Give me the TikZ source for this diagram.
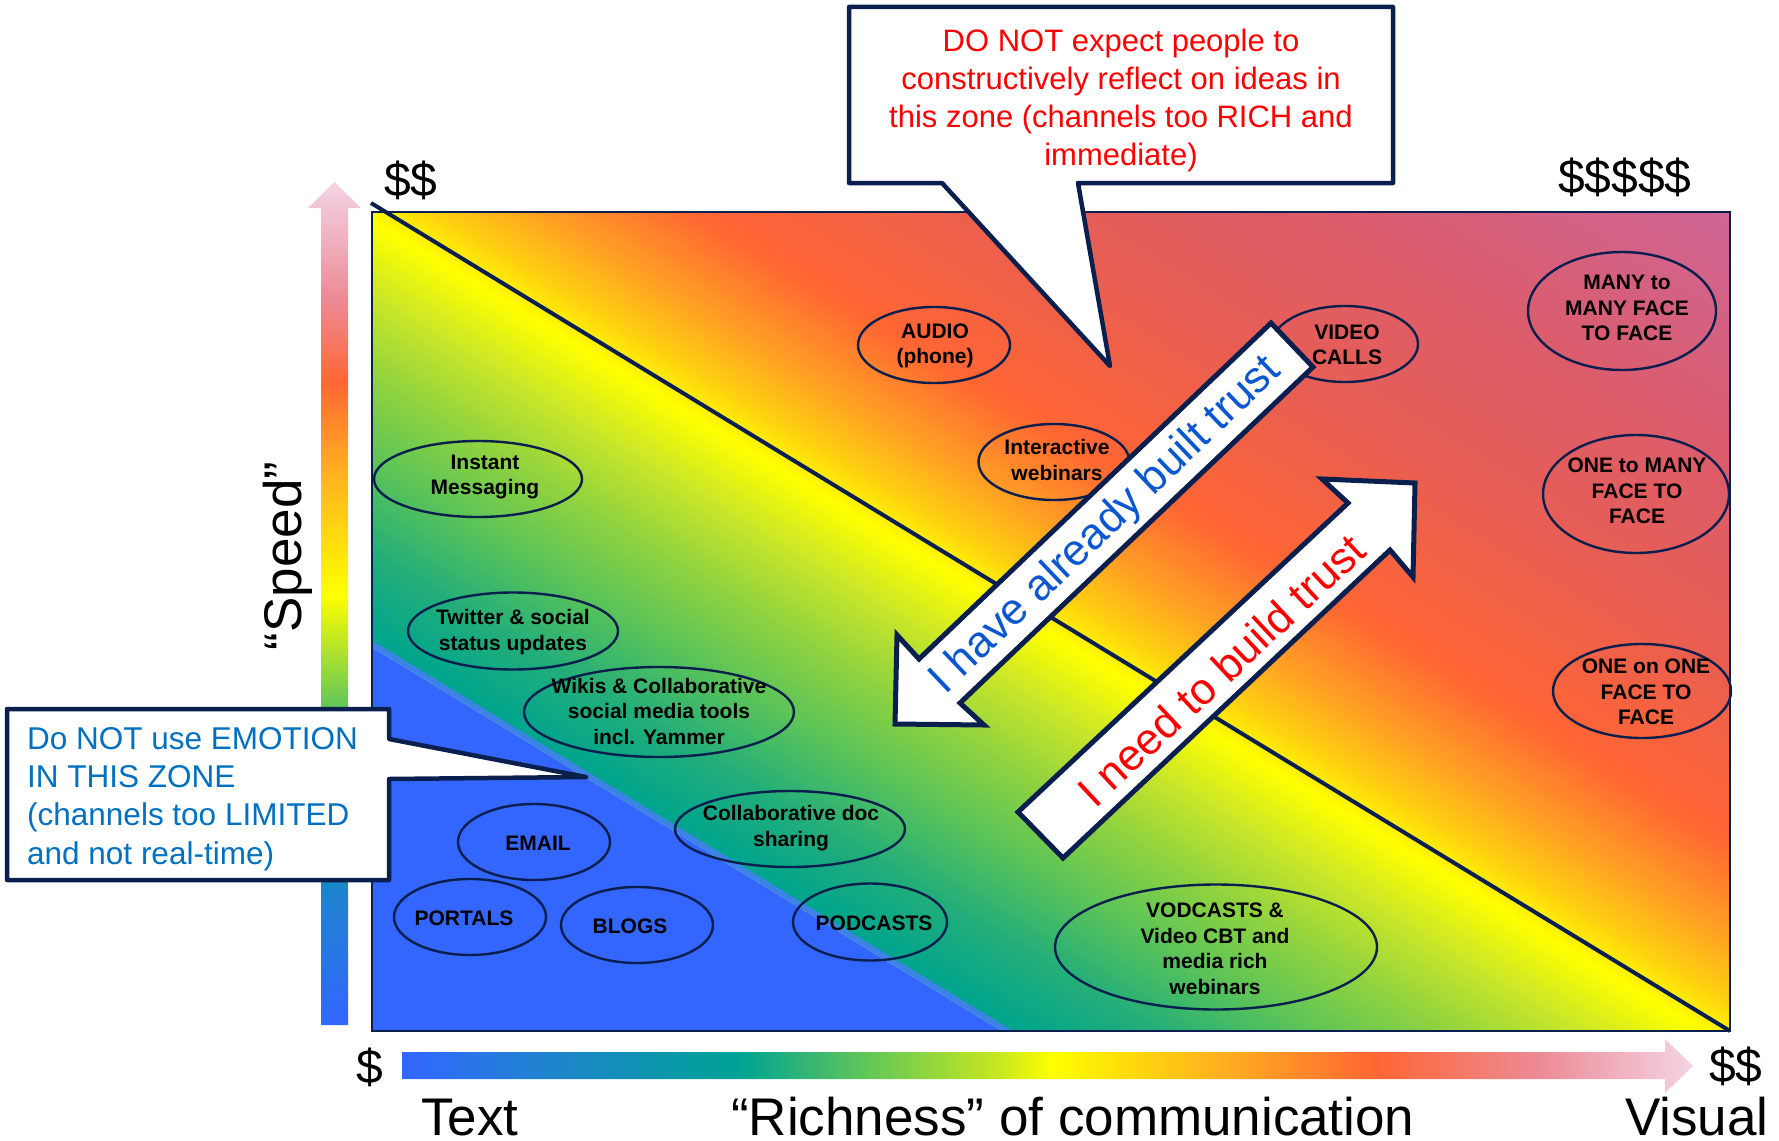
\documentclass[tikz,border=0pt]{standalone}
\usepackage{fontspec}
\setmainfont{Liberation Sans}
\usetikzlibrary{shapes.geometric}
\newcommand{\setfs}[2]{\fontsize{#1}{#2}\selectfont}
\definecolor{navy}{HTML}{0B1F4F}
\definecolor{gBlue}{HTML}{3366FF}
\definecolor{gBand}{HTML}{3C84E4}
\definecolor{gTeal}{HTML}{00A48E}
\definecolor{gTtwo}{HTML}{22AE7A}
\definecolor{gGreen}{HTML}{5CC458}
\definecolor{gGtwo}{HTML}{8ED240}
\definecolor{gYG}{HTML}{C8E62A}
\definecolor{gYellow}{HTML}{FFFF00}
\definecolor{gYtwo}{HTML}{FFD010}
\definecolor{gOrone}{HTML}{FFA024}
\definecolor{gOrange}{HTML}{FF6633}
\definecolor{gRed}{HTML}{E85E52}
\definecolor{gRose}{HTML}{DC5C6A}
\definecolor{gPink}{HTML}{CC6699}
\definecolor{sBtwo}{HTML}{1F82D0}
\definecolor{sTeal}{HTML}{00A394}
\definecolor{sGreen}{HTML}{62C658}
\definecolor{sYG}{HTML}{C8E820}
\definecolor{sOrone}{HTML}{FFB020}
\definecolor{sRose}{HTML}{EC8A96}
\definecolor{sPink}{HTML}{F4D4E4}
\definecolor{txtblue}{HTML}{0070C0}
\definecolor{trustblue}{HTML}{0A57D0}
\pgfdeclarehorizontalshading{hbarshade}{100bp}{color(0bp)=(gBlue); color(25bp)=(gBlue); color(30.35bp)=(sBtwo); color(38.1bp)=(sTeal); color(43bp)=(sGreen); color(48.15bp)=(sYG); color(50.2bp)=(gYellow); color(54bp)=(gYtwo); color(56.7bp)=(sOrone); color(62.7bp)=(gOrange); color(69bp)=(sRose); color(75bp)=(sPink); color(100bp)=(sPink)}
\pgfdeclareverticalshading{vbarshade}{100bp}{color(0bp)=(gBlue); color(25bp)=(gBlue); color(32.6bp)=(sBtwo); color(38bp)=(sTeal); color(43.9bp)=(sGreen); color(50.5bp)=(gYellow); color(57.9bp)=(sOrone); color(63.1bp)=(gOrange); color(68bp)=(sRose); color(75bp)=(sPink); color(100bp)=(sPink)}
\tikzset{
  ell/.style={draw=navy, line width=2.4pt, ellipse, inner sep=0pt},
  etext/.style={align=center, font=\bfseries\setfs{21}{25.5}, inner sep=0pt, text=black},
  callout/.style={fill=white, draw=navy, line width=4.5pt, line join=round},
  bigarrow/.style={fill=white, draw=navy, line width=5pt, line join=miter},
  dollar/.style={font=\setfs{48}{48}, inner sep=0pt, anchor=base west},
  axislabel/.style={font=\setfs{53}{53}, inner sep=0pt},
  trusttext/.style={font=\setfs{44}{44}, inner sep=0pt}
}
\begin{document}
\begin{tikzpicture}[x=1pt,y=-1pt]
\useasboundingbox (0,0) rectangle (1779,1140);
% ---------- gradient field ----------
\begin{scope}
\clip (372,212) rectangle (1730,1031);
\begin{scope}[shift={(371,203)}, rotate=-31.35]
\fill[gBlue] (-60,379) rectangle (1700,740);
\foreach \da/\db/\ca/\cb in {-379/-373/gBand/gBand, -373/-300/gTeal/gTtwo, -300/-220/gTtwo/gGreen, -220/-150/gGreen/gGtwo, -150/-80/gGtwo/gYG, -80/-15/gYG/gYellow, -15/25/gYellow/gYtwo, 25/80/gYtwo/gOrone, 80/160/gOrone/gOrange, 160/320/gOrange/gRed, 320/480/gRed/gRose, 480/720/gRose/gPink}{
  \pgfmathtruncatemacro{\nn}{max(1,ceil(((\db)-(\da))/3))}
  \pgfmathsetmacro{\st}{((\db)-(\da))/\nn}
  \foreach \i in {1,...,\nn}{
    \pgfmathsetmacro{\ya}{-((\da)+(\i-1)*\st)}
    \pgfmathsetmacro{\yb}{-((\da)+\i*\st)-0.8}
    \pgfmathsetmacro{\pc}{100*(\i-0.5)/\nn}
    \colorlet{stripc}{\cb!\pc!\ca}
    \fill[stripc] (-60,\ya) rectangle (1700,\yb);
  }
}
\end{scope}
\end{scope}
\draw[navy, line width=2.2pt] (372,212) rectangle (1730,1031);

% ---------- axis arrows ----------
\shade[shading=vbarshade] (321,1025) -- (321,208) -- (308,208) -- (334.5,182) -- (361,208) -- (348,208) -- (348,1025) -- cycle;
\shade[shading=hbarshade] (402,1052) -- (1665,1052) -- (1665,1039) -- (1693,1066) -- (1665,1093) -- (1665,1079) -- (402,1079) -- cycle;

% ---------- ellipses ----------
\node[ell, minimum width=152pt, minimum height=76pt] (audio) at (934,345) {};
\node[etext] (audio-t) at (935,346) {AUDIO\\(phone)};
\node[ell, minimum width=146pt, minimum height=76pt] (video) at (1345,344) {};
\node[etext] (video-t) at (1347,345) {VIDEO\\CALLS};
\node[ell, minimum width=188pt, minimum height=118pt] (many) at (1622,311) {};
\node[etext] (many-t) at (1627,308) {MANY to\\MANY FACE\\TO FACE};
\node[ell, minimum width=186pt, minimum height=118pt] (onemany) at (1636,494) {};
\node[etext] (onemany-t) at (1637,491) {ONE to MANY\\FACE TO\\FACE};
\node[ell, minimum width=178pt, minimum height=94pt] (oneone) at (1642,691) {};
\node[etext] (oneone-t) at (1646,692) {ONE on ONE\\FACE TO\\FACE};
\node[ell, minimum width=151pt, minimum height=76pt] (webinar) at (1054,462) {};
\node[etext] (webinar-t) at (1057,460) {Interactive\\webinars};
\node[ell, minimum width=208pt, minimum height=76pt] (instant) at (478,479) {};
\node[etext] (instant-t) at (485,477) {Instant\\Messaging};
\node[ell, minimum width=210pt, minimum height=77pt] (twitter) at (513,631) {};
\node[etext] (twitter-t) at (513,632) {Twitter \& social\\status updates};
\node[ell, minimum width=270pt, minimum height=90pt] (wikis) at (659,712) {};
\node[etext] (wikis-t) at (659,711) {Wikis \& Collaborative\\social media tools\\incl. Yammer};
\node[ell, minimum width=152pt, minimum height=76pt] (email) at (534,842) {};
\node[etext] (email-t) at (538,843) {EMAIL};
\node[ell, minimum width=152pt, minimum height=76pt] (portals) at (470,917) {};
\node[etext] (portals-t) at (464,918) {PORTALS};
\node[ell, minimum width=152pt, minimum height=76pt] (blogs) at (637,925) {};
\node[etext] (blogs-t) at (630,926) {BLOGS};
\node[ell, minimum width=230pt, minimum height=76pt] (collab) at (790,829) {};
\node[etext] (collab-t) at (791,828) {Collaborative doc\\sharing};
\node[ell, minimum width=154pt, minimum height=77pt] (podcasts) at (870,922) {};
\node[etext] (podcasts-t) at (874,923) {PODCASTS};
\node[ell, minimum width=322pt, minimum height=125pt] (vodcasts) at (1216,947) {};
\node[etext] (vodcasts-t) at (1215,949) {VODCASTS \&\\Video CBT and\\media rich\\webinars};

% ---------- diagonal ----------
\coordinate (diagA) at (371,203);
\coordinate (diagB) at (1730,1031);
\draw[navy, line width=4pt] (diagA) -- (diagB);

% ---------- trust arrows ----------
\draw[bigarrow] (1271,323) -- (919,659) -- (897,635) -- (895,724) -- (984,725) -- (960,703) -- (1313,367) -- cycle;
\node[trusttext, text=trustblue, rotate=43.7] (built) at (1106,526) {I have already built trust};
\draw[bigarrow] (1018,812) -- (1348,503) -- (1322,479) -- (1415,483) -- (1413,577) -- (1390,550) -- (1063,858) -- cycle;
\node[trusttext, text=red, rotate=43.1] (need) at (1221,670) {I need to build trust};

% ---------- callouts ----------
\draw[callout] (849,7) -- (1393,7) -- (1393,183) -- (1078,183) -- (1110,366) -- (942,183) -- (849,183) -- cycle;
\node[anchor=north, align=center, text=red, font=\setfs{31}{38}, inner sep=0pt] (topnote) at (1121,29) {DO NOT expect people to\\constructively reflect on ideas in\\this zone (channels too RICH and\\immediate)};
\draw[callout] (7,709) -- (389,709) -- (389,739) -- (586,777) -- (389,779) -- (389,880) -- (7,880) -- cycle;
\node[anchor=north west, align=left, text=txtblue, font=\setfs{31.5}{38.3}, inner sep=0pt] (leftnote) at (27,727) {Do NOT use EMOTION\\IN THIS ZONE\\(channels too LIMITED\\and not real-time)};

% ---------- labels ----------
\node[dollar] (d-tl) at (384,196) {\$\$};
\node[dollar] (d-tr) at (1558,193) {\$\$\$\$\$};
\node[dollar] (d-bl) at (356,1083) {\$};
\node[dollar] (d-br) at (1709,1082) {\$\$};
\node[axislabel, anchor=base west] (lbl-text) at (421,1135) {Text};
\node[axislabel, anchor=base west] (lbl-rich) at (731,1135) {“Richness” of communication};
\node[axislabel, anchor=base west] (lbl-visual) at (1625,1135) {Visual};
\node[axislabel, rotate=90] (lbl-speed) at (287.5,556) {“Speed”};
\end{tikzpicture}
\end{document}
